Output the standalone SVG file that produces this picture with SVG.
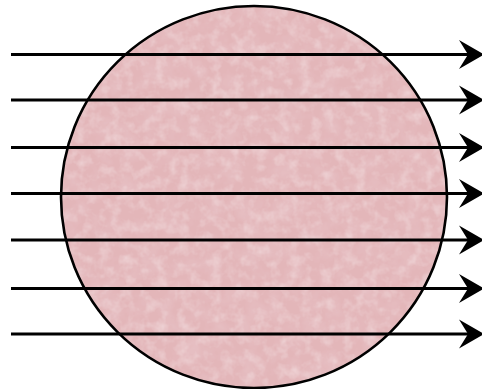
<svg xmlns="http://www.w3.org/2000/svg" width="482" height="389" viewBox="0 0 482 389">
  <style>
    .ray { stroke: #000; stroke-width: 3; fill: none; marker-end: url(#head); }
    .rim { fill: none; stroke: #000; stroke-width: 2.6; }
  </style>
  <defs>
    <marker id="head" markerUnits="userSpaceOnUse" markerWidth="28" markerHeight="32" viewBox="0 0 28 32" refX="10" refY="16" orient="auto">
      <path d="M1,1.5 L26,16 L1,30.5 L10,16 Z" fill="#000"/>
    </marker>
    <filter id="tex" x="0" y="0" width="100%" height="100%">
      <feTurbulence type="fractalNoise" baseFrequency="0.05" numOctaves="4" seed="7" result="n"/>
      <feColorMatrix in="n" type="matrix" values="0 0 0 0 0.82  0 0 0 0 0.58  0 0 0 0 0.61  0 0 0 1.0 -0.42" result="dark"/>
      <feTurbulence type="fractalNoise" baseFrequency="0.09" numOctaves="3" seed="21" result="n2"/>
      <feColorMatrix in="n2" type="matrix" values="0 0 0 0 0.94  0 0 0 0 0.82  0 0 0 0 0.83  0 0 0 0.9 -0.4" result="light"/>
      <feMerge result="m"><feMergeNode in="SourceGraphic"/><feMergeNode in="dark"/><feMergeNode in="light"/></feMerge>
      <feComposite in="m" in2="SourceGraphic" operator="in"/>
    </filter>
  </defs>
  <rect width="482" height="389" fill="#fff"/>
  <g id="disk">
    <ellipse cx="254" cy="197" rx="193" ry="191" fill="#e3b6b9" filter="url(#tex)"/>
    <ellipse class="rim" cx="254" cy="197" rx="193" ry="191"/>
  </g>
  <g id="rays">
    <line class="ray" x1="11" y1="54.5" x2="468" y2="54.5"/>
    <line class="ray" x1="11" y1="100" x2="468" y2="100"/>
    <line class="ray" x1="11" y1="147.5" x2="468" y2="147.5"/>
    <line class="ray" x1="11" y1="193.5" x2="468" y2="193.5"/>
    <line class="ray" x1="11" y1="240" x2="468" y2="240"/>
    <line class="ray" x1="11" y1="288.5" x2="468" y2="288.5"/>
    <line class="ray" x1="11" y1="334" x2="468" y2="334"/>
  </g>
</svg>
